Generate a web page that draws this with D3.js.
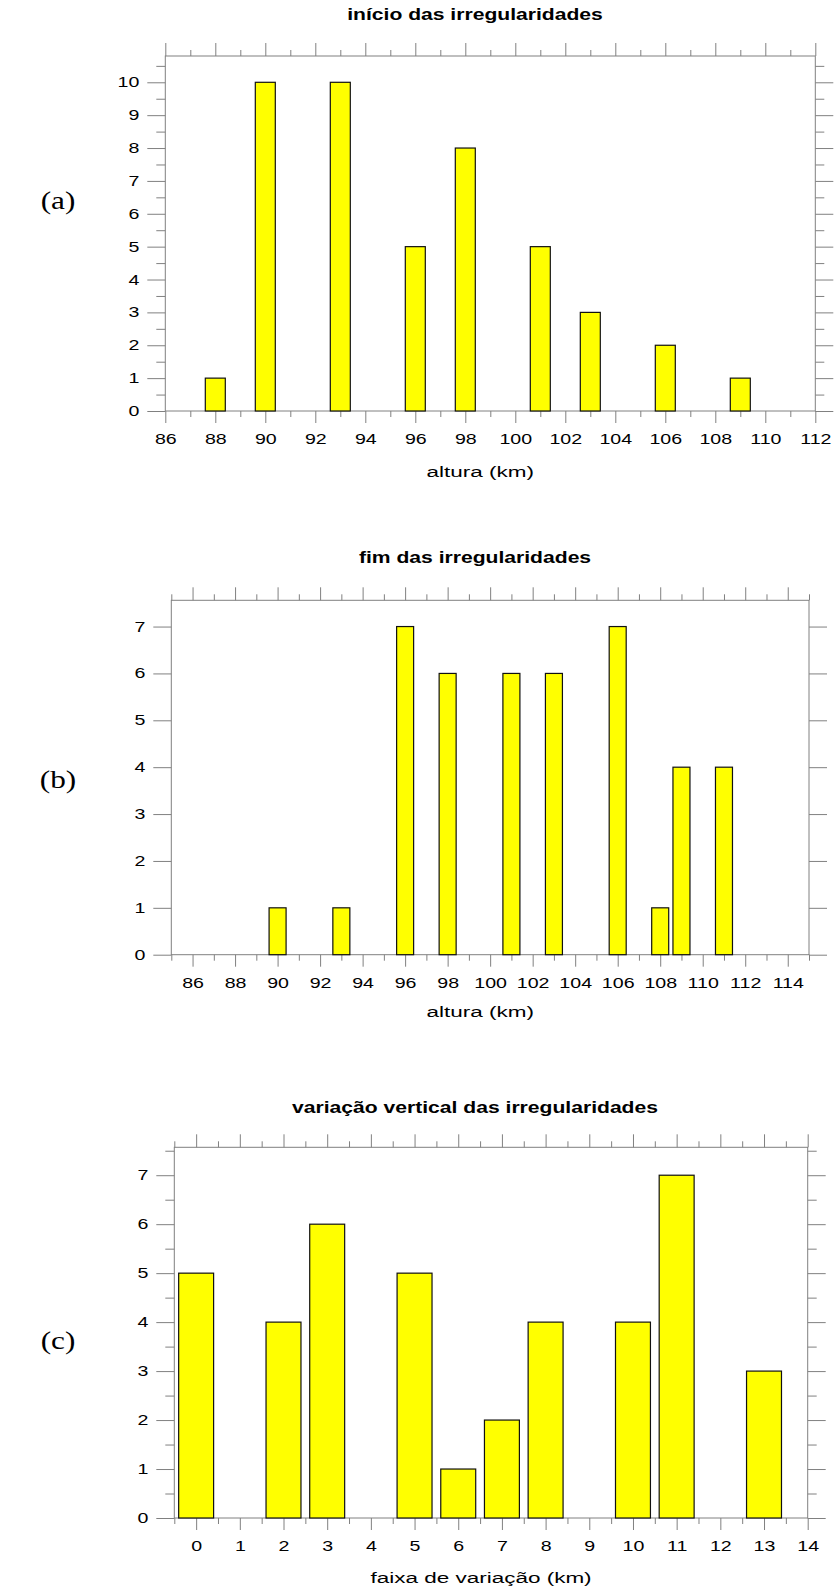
<!DOCTYPE html>
<html>
<head>
<meta charset="utf-8">
<script src="https://cdn.jsdelivr.net/npm/d3@7"></script>
<style>
  html, body { margin: 0; padding: 0; background: #fff; }
  svg { display: block; }
  text { font-family: "Liberation Sans", Arial, sans-serif; fill: #000; }
</style>
</head>
<body>
<svg id="chart" width="837" height="1593"></svg>
<script>
// ---------------- data ----------------
// (a) início das irregularidades
const catsA = [88, 90, 93, 96, 98, 101, 103, 106, 109];
const valsA = [1, 10, 10, 5, 8, 5, 3, 2, 1];
const xLabelsA = [86, 88, 90, 92, 94, 96, 98, 100, 102, 104, 106, 108, 110, 112];
const yLabelsA = [0, 1, 2, 3, 4, 5, 6, 7, 8, 9, 10];

// (b) fim das irregularidades
const catsB = [90, 93, 96, 98, 101, 103, 106, 108, 109, 111];
const valsB = [1, 1, 7, 6, 6, 6, 7, 1, 4, 4];
const xLabelsB = [86, 88, 90, 92, 94, 96, 98, 100, 102, 104, 106, 108, 110, 112, 114];
const yLabelsB = [0, 1, 2, 3, 4, 5, 6, 7];

// (c) variação vertical das irregularidades
const catsC = [0, 2, 3, 5, 6, 7, 8, 10, 11, 13];
const valsC = [5, 4, 6, 5, 1, 2, 4, 4, 7, 3];
const xLabelsC = [0, 1, 2, 3, 4, 5, 6, 7, 8, 9, 10, 11, 12, 13, 14];
const yLabelsC = [0, 1, 2, 3, 4, 5, 6, 7];

const titles = ["início das irregularidades", "fim das irregularidades", "variação vertical das irregularidades"];
const xTitles = ["altura (km)", "altura (km)", "faixa de variação (km)"];
const panelTags = ["(a)", "(b)", "(c)"];

// ---------------- layout ----------------
const svg = d3.select("#chart");
const AX = "#808080";
const SX = 1.4;          // horizontal stretch of the original raster text
const TICK_FS = 14;

const panels = [
  { cats: catsA, vals: valsA, xLabels: xLabelsA, yLabels: yLabelsA,
    xDomain: [86, 112], yMax: 10.8, x0: 165.3, x1: 815.3, yTop: 56, yBase: 411,
    xMinorStep: 1, yMinorStep: 0.5, titleY: 20, tagY: 209, xtY: 477 },
  { cats: catsB, vals: valsB, xLabels: xLabelsB, yLabels: yLabelsB,
    xDomain: [85, 115], yMax: 7.56, x0: 171.3, x1: 809, yTop: 600.3, yBase: 954.7,
    xMinorStep: 1, yMinorStep: null, titleY: 563, tagY: 788, xtY: 1017 },
  { cats: catsC, vals: valsC, xLabels: xLabelsC, yLabels: yLabelsC,
    xDomain: [-0.5, 14], yMax: 7.57, x0: 174.3, x1: 807.7, yTop: 1147.3, yBase: 1518,
    xMinorStep: 0.5, yMinorStep: 0.5, titleY: 1113, tagY: 1349, xtY: 1583 }
];

const BAR_W = 0.8;

function stretch(sel, sx) {
  sel.each(function () {
    const t = d3.select(this);
    const x = +t.attr("x") || 0, y = +t.attr("y") || 0;
    t.attr("x", 0).attr("y", 0).attr("transform", `translate(${x},${y}) scale(${sx},1)`);
  });
}

panels.forEach((p, i) => {
  const g = svg.append("g");
  const x = d3.scaleLinear().domain(p.xDomain).range([p.x0, p.x1]);
  const y = d3.scaleLinear().domain([0, p.yMax]).range([p.yBase, p.yTop]);

  const xMinor = d3.range(p.xDomain[0], p.xDomain[1] + 1e-9, p.xMinorStep)
    .filter(v => !p.xLabels.some(l => Math.abs(l - v) < 1e-9));
  const yMinor = p.yMinorStep ? d3.range(0, p.yMax + 1e-9, p.yMinorStep)
    .filter(v => !p.yLabels.some(l => Math.abs(l - v) < 1e-9)) : [];

  function styleAxis(sel) {
    sel.select(".domain").remove();
    sel.selectAll("line").attr("stroke", AX).attr("stroke-width", 1);
    sel.attr("font-family", null).attr("font-size", null);
  }

  // bottom major + labels
  const gb = g.append("g").attr("transform", `translate(0,${p.yBase})`)
    .call(d3.axisBottom(x).tickValues(p.xLabels).tickSize(12).tickSizeOuter(0).tickPadding(11).tickFormat(d3.format("d")));
  styleAxis(gb);
  gb.selectAll("text").attr("font-size", TICK_FS).call(stretch, SX);
  g.append("g").attr("transform", `translate(0,${p.yBase})`)
    .call(d3.axisBottom(x).tickValues(xMinor).tickSize(6).tickSizeOuter(0).tickFormat(""))
    .call(styleAxis);

  // top ticks
  g.append("g").attr("transform", `translate(0,${p.yTop})`)
    .call(d3.axisTop(x).tickValues(p.xLabels).tickSize(13).tickSizeOuter(0).tickFormat(""))
    .call(styleAxis);
  g.append("g").attr("transform", `translate(0,${p.yTop})`)
    .call(d3.axisTop(x).tickValues(xMinor).tickSize(6).tickSizeOuter(0).tickFormat(""))
    .call(styleAxis);

  // left major + labels
  const gl = g.append("g").attr("transform", `translate(${p.x0},0)`)
    .call(d3.axisLeft(y).tickValues(p.yLabels).tickSize(18).tickSizeOuter(0).tickPadding(8).tickFormat(d3.format("d")));
  styleAxis(gl);
  gl.selectAll("text").attr("font-size", TICK_FS).call(stretch, SX);
  g.append("g").attr("transform", `translate(${p.x0},0)`)
    .call(d3.axisLeft(y).tickValues(yMinor).tickSize(9).tickSizeOuter(0).tickFormat(""))
    .call(styleAxis);

  // right ticks
  g.append("g").attr("transform", `translate(${p.x1},0)`)
    .call(d3.axisRight(y).tickValues(p.yLabels).tickSize(18).tickSizeOuter(0).tickFormat(""))
    .call(styleAxis);
  g.append("g").attr("transform", `translate(${p.x1},0)`)
    .call(d3.axisRight(y).tickValues(yMinor).tickSize(9).tickSizeOuter(0).tickFormat(""))
    .call(styleAxis);

  // frame
  g.append("rect")
    .attr("x", p.x0).attr("y", p.yTop)
    .attr("width", p.x1 - p.x0).attr("height", p.yBase - p.yTop)
    .attr("fill", "none").attr("stroke", AX).attr("stroke-width", 1);

  // bars
  const data = p.cats.map((c, k) => ({ c, v: p.vals[k] }));
  g.selectAll("rect.bar").data(data).join("rect")
    .attr("class", "bar")
    .attr("x", d => x(d.c - BAR_W / 2))
    .attr("width", d => x(d.c + BAR_W / 2) - x(d.c - BAR_W / 2))
    .attr("y", d => y(d.v))
    .attr("height", d => y(0) - y(d.v))
    .attr("fill", "#ffff00")
    .attr("stroke", "#111")
    .attr("stroke-width", 1.2);

  // title
  g.append("text")
    .attr("transform", `translate(475,${p.titleY}) scale(1.32,1)`)
    .attr("text-anchor", "middle")
    .attr("font-weight", "bold").attr("font-size", 16)
    .text(titles[i]);

  // x-axis title
  g.append("text")
    .attr("transform", `translate(${(p.x0 + p.x1) / 2 - 10},${p.xtY}) scale(1.5,1)`)
    .attr("text-anchor", "middle")
    .attr("font-size", 15)
    .text(xTitles[i]);

  // panel tag
  g.append("text")
    .attr("transform", `translate(58,${p.tagY}) scale(1.25,1)`)
    .attr("text-anchor", "middle")
    .style("font-family", "'Liberation Serif', 'Times New Roman', serif")
    .attr("font-size", 25)
    .text(panelTags[i]);
});
</script>
</body>
</html>
